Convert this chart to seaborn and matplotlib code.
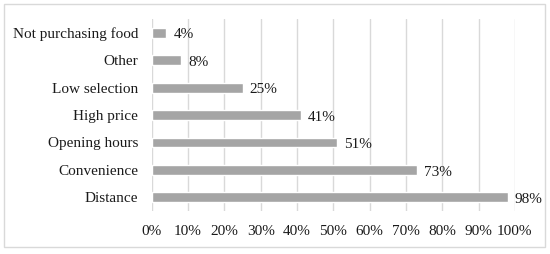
import numpy as np
import pandas as pd
import matplotlib.pyplot as plt
import seaborn as sns
from matplotlib.patches import Rectangle

# Données
raisons = ["Not purchasing food", "Other", "Low selection", "High price",
           "Opening hours", "Convenience", "Distance"]
valeurs = [4, 8, 25, 41, 51, 73, 98]

df = pd.DataFrame({"raison": raisons, "valeur": valeurs})

sns.set_style("white")
plt.rcParams['font.family'] = ['Liberation Serif', 'DejaVu Serif']

fig = plt.figure(figsize=(5.5, 2.54), dpi=100)
ax = fig.add_axes([0.276, 0.169, 0.66, 0.756])

sns.barplot(data=df, x="valeur", y="raison", orient="h", color="#A5A5A5",
            saturation=1, width=0.36, ax=ax)

for i, v in enumerate(valeurs):
    ax.text(v + 2, i + 0.08, f"{v}%", va="center", ha="left",
            fontsize=11, color="#1a1a1a")

ax.set_xlim(0, 100)
ax.set_ylim(6.5, -0.5)
ax.set_xticks(np.arange(0, 101, 10))
ax.set_xticklabels([f"{t}%" for t in range(0, 101, 10)])
ax.grid(axis="x", color="#D9D9D9", linewidth=1)
ax.set_axisbelow(True)
for s in ax.spines.values():
    s.set_visible(False)
ax.tick_params(axis="both", length=0, labelsize=11, colors="#1a1a1a")
ax.tick_params(axis="x", pad=10)
ax.tick_params(axis="y", pad=10)
ax.set_xlabel("")
ax.set_ylabel("")

# Cadre autour de la figure
fig.patches.append(Rectangle((4 / 550, 7 / 254), 541 / 550, 243 / 254,
                             transform=fig.transFigure, fill=False,
                             edgecolor="#D9D9D9", linewidth=1))

fig.savefig("out.png", dpi=100)
